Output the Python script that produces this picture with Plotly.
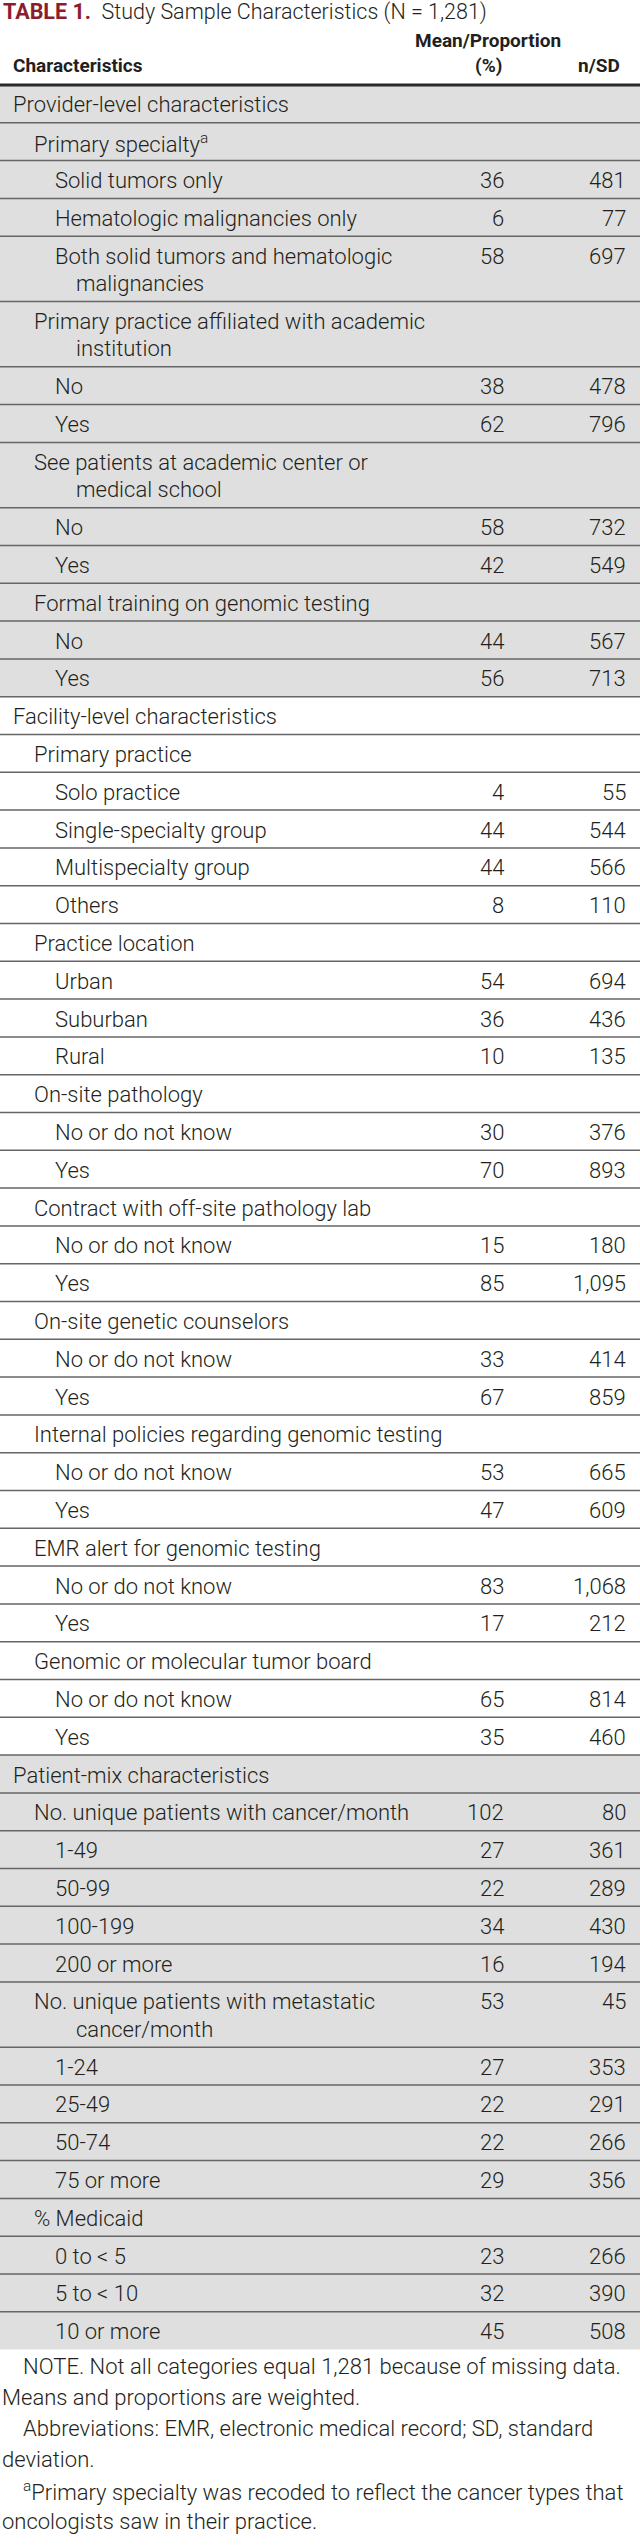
import plotly.graph_objects as go

# ---------------- data ----------------
title_tag = "TABLE 1."
title_text = "Study Sample Characteristics (N = 1,281)"
col_headers = ["Characteristics", "Mean/Proportion|(%)", "n/SD"]

provider_labels = [
    "Provider-level characteristics",
    "Primary specialty^a",
    "Solid tumors only",
    "Hematologic malignancies only",
    "Both solid tumors and hematologic|malignancies",
    "Primary practice affiliated with academic|institution",
    "No", "Yes",
    "See patients at academic center or|medical school",
    "No", "Yes",
    "Formal training on genomic testing",
    "No", "Yes",
]
provider_levels = [0, 1, 2, 2, 2, 1, 2, 2, 1, 2, 2, 1, 2, 2]
provider_mean = ["", "", "36", "6", "58", "", "38", "62", "", "58", "42", "", "44", "56"]
provider_nsd = ["", "", "481", "77", "697", "", "478", "796", "", "732", "549", "", "567", "713"]

facility_labels = [
    "Facility-level characteristics",
    "Primary practice",
    "Solo practice", "Single-specialty group", "Multispecialty group", "Others",
    "Practice location",
    "Urban", "Suburban", "Rural",
    "On-site pathology", "No or do not know", "Yes",
    "Contract with off-site pathology lab", "No or do not know", "Yes",
    "On-site genetic counselors", "No or do not know", "Yes",
    "Internal policies regarding genomic testing", "No or do not know", "Yes",
    "EMR alert for genomic testing", "No or do not know", "Yes",
    "Genomic or molecular tumor board", "No or do not know", "Yes",
]
facility_levels = [0, 1, 2, 2, 2, 2, 1, 2, 2, 2, 1, 2, 2, 1, 2, 2, 1, 2, 2, 1, 2, 2, 1, 2, 2, 1, 2, 2]
facility_mean = ["", "", "4", "44", "44", "8", "", "54", "36", "10", "", "30", "70", "", "15", "85",
                 "", "33", "67", "", "53", "47", "", "83", "17", "", "65", "35"]
facility_nsd = ["", "", "55", "544", "566", "110", "", "694", "436", "135", "", "376", "893", "", "180", "1,095",
                "", "414", "859", "", "665", "609", "", "1,068", "212", "", "814", "460"]

patient_labels = [
    "Patient-mix characteristics",
    "No. unique patients with cancer/month",
    "1-49", "50-99", "100-199", "200 or more",
    "No. unique patients with metastatic|cancer/month",
    "1-24", "25-49", "50-74", "75 or more",
    "% Medicaid",
    "0 to < 5", "5 to < 10", "10 or more",
]
patient_levels = [0, 1, 2, 2, 2, 2, 1, 2, 2, 2, 2, 1, 2, 2, 2]
patient_mean = ["", "102", "27", "22", "34", "16", "53", "27", "22", "22", "29", "", "23", "32", "45"]
patient_nsd = ["", "80", "361", "289", "430", "194", "45", "353", "291", "266", "356", "", "266", "390", "508"]

note_lines = [
    ("NOTE. Not all categories equal 1,281 because of missing data.", 1),
    ("Means and proportions are weighted.", 0),
    ("Abbreviations: EMR, electronic medical record; SD, standard", 1),
    ("deviation.", 0),
    ("^aPrimary specialty was recoded to reflect the cancer types that", 1),
    ("oncologists saw in their practice.", 0),
]

# ---------------- style ----------------
W, H = 640, 2545
BODY = "Roboto, 'Liberation Sans', Arial, sans-serif"
TXT = "#231f20"
GRAY = "#dfdfdf"
RULE = "#666666"
MAROON = "#8c1d2e"
FS = 22
NOTE_FS = 22
ROW_H = 37.8
LINE_H = 27.5
HEADER_LINE_Y = 85
INDENT = {0: 12, 1: 33, 2: 54}
CONT_X = 75
MEAN_X = 505
NSD_X = 627

sections = [
    (provider_labels, provider_levels, provider_mean, provider_nsd, GRAY),
    (facility_labels, facility_levels, facility_mean, facility_nsd, "#ffffff"),
    (patient_labels, patient_levels, patient_mean, patient_nsd, GRAY),
]


def fmt(s):
    return s.replace("< ", "&lt; ").replace("^a", "<sup>a</sup>")


fig = go.Figure()
fig.add_trace(go.Scatter(x=[0, W], y=[0, H], mode="markers", marker=dict(opacity=0),
                         hoverinfo="skip", showlegend=False))

annotations = []
shapes = []


def ann(x, y, text, xanchor="left", size=FS, color=TXT, weight=300):
    annotations.append(dict(
        x=x, y=y, xref="x", yref="y", text=text, showarrow=False,
        xanchor=xanchor, yanchor="middle", align=xanchor if xanchor != "center" else "center",
        font=dict(family=BODY, size=size, color=color, weight=weight),
        borderpad=0,
    ))


# title
ann(2, 12, "<span style='color:%s;font-weight:bold'>%s</span>  %s" % (MAROON, title_tag, title_text),
    size=21.5, weight=300)

# column headers
hdr1 = col_headers[1].split("|")
ann(12, 65, "<b>" + col_headers[0] + "</b>", size=19, weight=700)
ann(488, 40, "<b>" + hdr1[0] + "</b>", xanchor="center", size=19, weight=700)
ann(488, 65, "<b>" + hdr1[1] + "</b>", xanchor="center", size=19, weight=700)
ann(621, 65, "<b>" + col_headers[2] + "</b>", xanchor="right", size=19, weight=700)

top = HEADER_LINE_Y
for labels, levels, means, nsds, fill in sections:
    sec_top = top
    row_tops = []
    for lab, lev, m, n in zip(labels, levels, means, nsds):
        parts = lab.split("|")
        h = ROW_H + LINE_H * (len(parts) - 1)
        row_tops.append(top)
        for k, part in enumerate(parts):
            yc = top + ROW_H / 2 + 1 + LINE_H * k
            ann(INDENT[lev] if k == 0 else CONT_X, yc, fmt(part))
        yc0 = top + ROW_H / 2 + 1
        if m:
            ann(MEAN_X, yc0, m, xanchor="right")
        if n:
            ann(NSD_X, yc0, n, xanchor="right")
        top += h
    shapes.append(dict(type="rect", xref="x", yref="y", x0=0, x1=W, y0=sec_top, y1=top,
                       fillcolor=fill, line=dict(width=0), layer="below"))
    for rt in row_tops:
        if rt == HEADER_LINE_Y:
            continue
        shapes.append(dict(type="line", xref="x", yref="y", x0=0, x1=W, y0=rt, y1=rt,
                           line=dict(color=RULE, width=1.5)))

table_bottom = top
shapes.append(dict(type="line", xref="x", yref="y", x0=0, x1=W, y0=HEADER_LINE_Y, y1=HEADER_LINE_Y,
                   line=dict(color="#2a2a2a", width=3)))

# notes
ny = table_bottom + 17
for text, indent in note_lines:
    ann(22 if indent else 1, ny, fmt(text), size=NOTE_FS)
    ny += 31

fig.update_layout(
    width=W, height=H,
    margin=dict(l=0, r=0, t=0, b=0),
    paper_bgcolor="white", plot_bgcolor="white",
    xaxis=dict(range=[0, W], visible=False, fixedrange=True),
    yaxis=dict(range=[H, 0], visible=False, fixedrange=True),
    annotations=annotations,
    shapes=shapes,
    showlegend=False,
)

fig.write_html("out.html",
               config={"displayModeBar": False, "staticPlot": True},
               post_script="document.body.style.margin='0';document.body.style.overflow='hidden';")
